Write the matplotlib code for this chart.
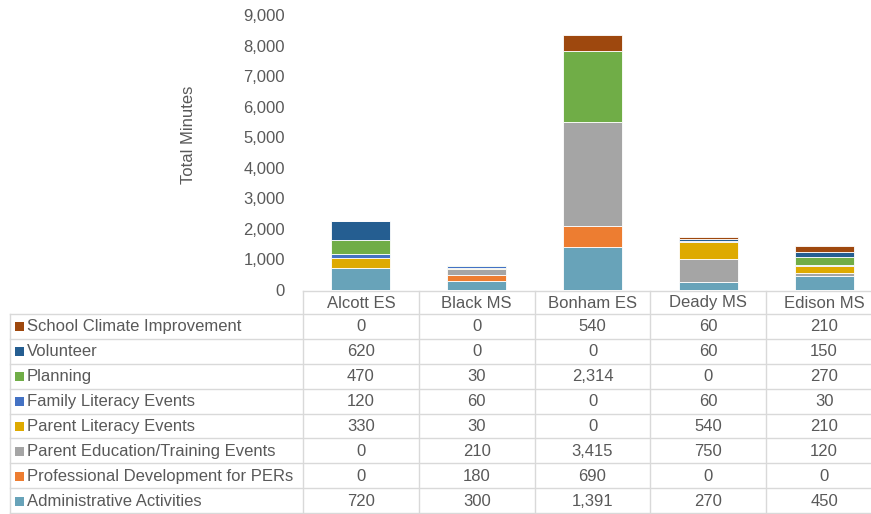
import matplotlib
matplotlib.use("Agg")
import matplotlib.pyplot as plt
from matplotlib.lines import Line2D
from matplotlib.patches import Rectangle
from matplotlib.transforms import blended_transform_factory

plt.rcParams['font.family'] = ['Liberation Sans', 'DejaVu Sans']

schools = ["Alcott ES", "Black MS", "Bonham ES", "Deady MS", "Edison MS"]

# series listed bottom of the stack first
series = [
    "Administrative Activities",
    "Professional Development for PERs",
    "Parent Education/Training Events",
    "Parent Literacy Events",
    "Family Literacy Events",
    "Planning",
    "Volunteer",
    "School Climate Improvement",
]
admin = [720, 300, 1391, 270, 450]
prof_dev = [0, 180, 690, 0, 0]
parent_edu = [0, 210, 3415, 750, 120]
parent_lit = [330, 30, 0, 540, 210]
family_lit = [120, 60, 0, 60, 30]
planning = [470, 30, 2314, 0, 270]
volunteer = [620, 0, 0, 60, 150]
climate = [0, 0, 540, 60, 210]
values = [admin, prof_dev, parent_edu, parent_lit, family_lit, planning, volunteer, climate]

colors = ["#68A3B9", "#ED7D31", "#A5A5A5", "#DEAA00", "#4472C4", "#70AD47", "#255E91", "#9E480E"]

W, H = 871, 514
fig = plt.figure(figsize=(W / 100, H / 100), dpi=100)

def fx(px):
    return px / W

def fy(py):
    return 1 - py / H

text_col = "#595959"
grid_col = "#D9D9D9"
fs = 12

# the last column runs a little past the right edge of the figure
ax = fig.add_axes([fx(303), fy(290), fx(882) - fx(303), fy(15) - fy(290)])
bottom = [0] * len(schools)
for name, vals, c in zip(series, values, colors):
    ax.bar(range(len(schools)), vals, width=0.51, bottom=bottom, color=c,
           edgecolor="white", linewidth=0.6)
    bottom = [b + v for b, v in zip(bottom, vals)]

ax.set_xlim(-0.5, len(schools) - 0.5)
ax.set_ylim(0, 9000)
ax.set_yticks(range(0, 9001, 1000))
ax.set_yticklabels([f"{t:,}" for t in range(0, 9001, 1000)], color=text_col, fontsize=fs)
ax.tick_params(axis="y", length=0, pad=13)
ax.set_xticks([])
for s in ax.spines.values():
    s.set_visible(False)
fig.text(fx(188), fy(135), "Total Minutes", rotation=90, ha="center", va="center",
         color=text_col, fontsize=fs)

# data table below the plot, columns aligned with the categories
tr = blended_transform_factory(ax.transData, fig.transFigure)
header_top, header_bot = 291, 314
row_h = (513 - header_bot) / len(series)
left_edge = 10
x_lo, x_hi = -0.5, len(schools) - 0.5

fig.add_artist(Line2D([x_lo, x_hi], [fy(header_top)] * 2, transform=tr, color=grid_col, lw=1.0))
for i in range(len(series) + 1):
    py = header_bot + i * row_h
    fig.add_artist(Line2D([fx(left_edge), 1.0], [fy(py)] * 2, transform=fig.transFigure,
                          color=grid_col, lw=1.0))
for i in range(len(schools) + 1):
    fig.add_artist(Line2D([i - 0.5, i - 0.5], [fy(header_top), fy(513)], transform=tr,
                          color=grid_col, lw=1.0))
fig.add_artist(Line2D([fx(left_edge)] * 2, [fy(header_bot), fy(513)],
                      transform=fig.transFigure, color=grid_col, lw=1.0))

for j, name in enumerate(schools):
    fig.text(j, fy((header_top + header_bot) / 2 + 0.5), name, transform=tr, ha="center",
             va="center", color=text_col, fontsize=fs)

# table rows list the top of the stack first
for r, k in enumerate(reversed(range(len(series)))):
    yc = fy(header_bot + (r + 0.5) * row_h + 0.5)
    fig.add_artist(Rectangle((fx(15), yc - 4.5 / H), 9 / W, 9 / H, transform=fig.transFigure,
                             facecolor=colors[k], edgecolor="none"))
    fig.text(fx(27), yc, series[k], ha="left", va="center", color=text_col, fontsize=fs)
    for j, v in enumerate(values[k]):
        fig.text(j, yc, f"{v:,}", transform=tr, ha="center", va="center",
                 color=text_col, fontsize=fs)

fig.savefig("out.png", dpi=100)
